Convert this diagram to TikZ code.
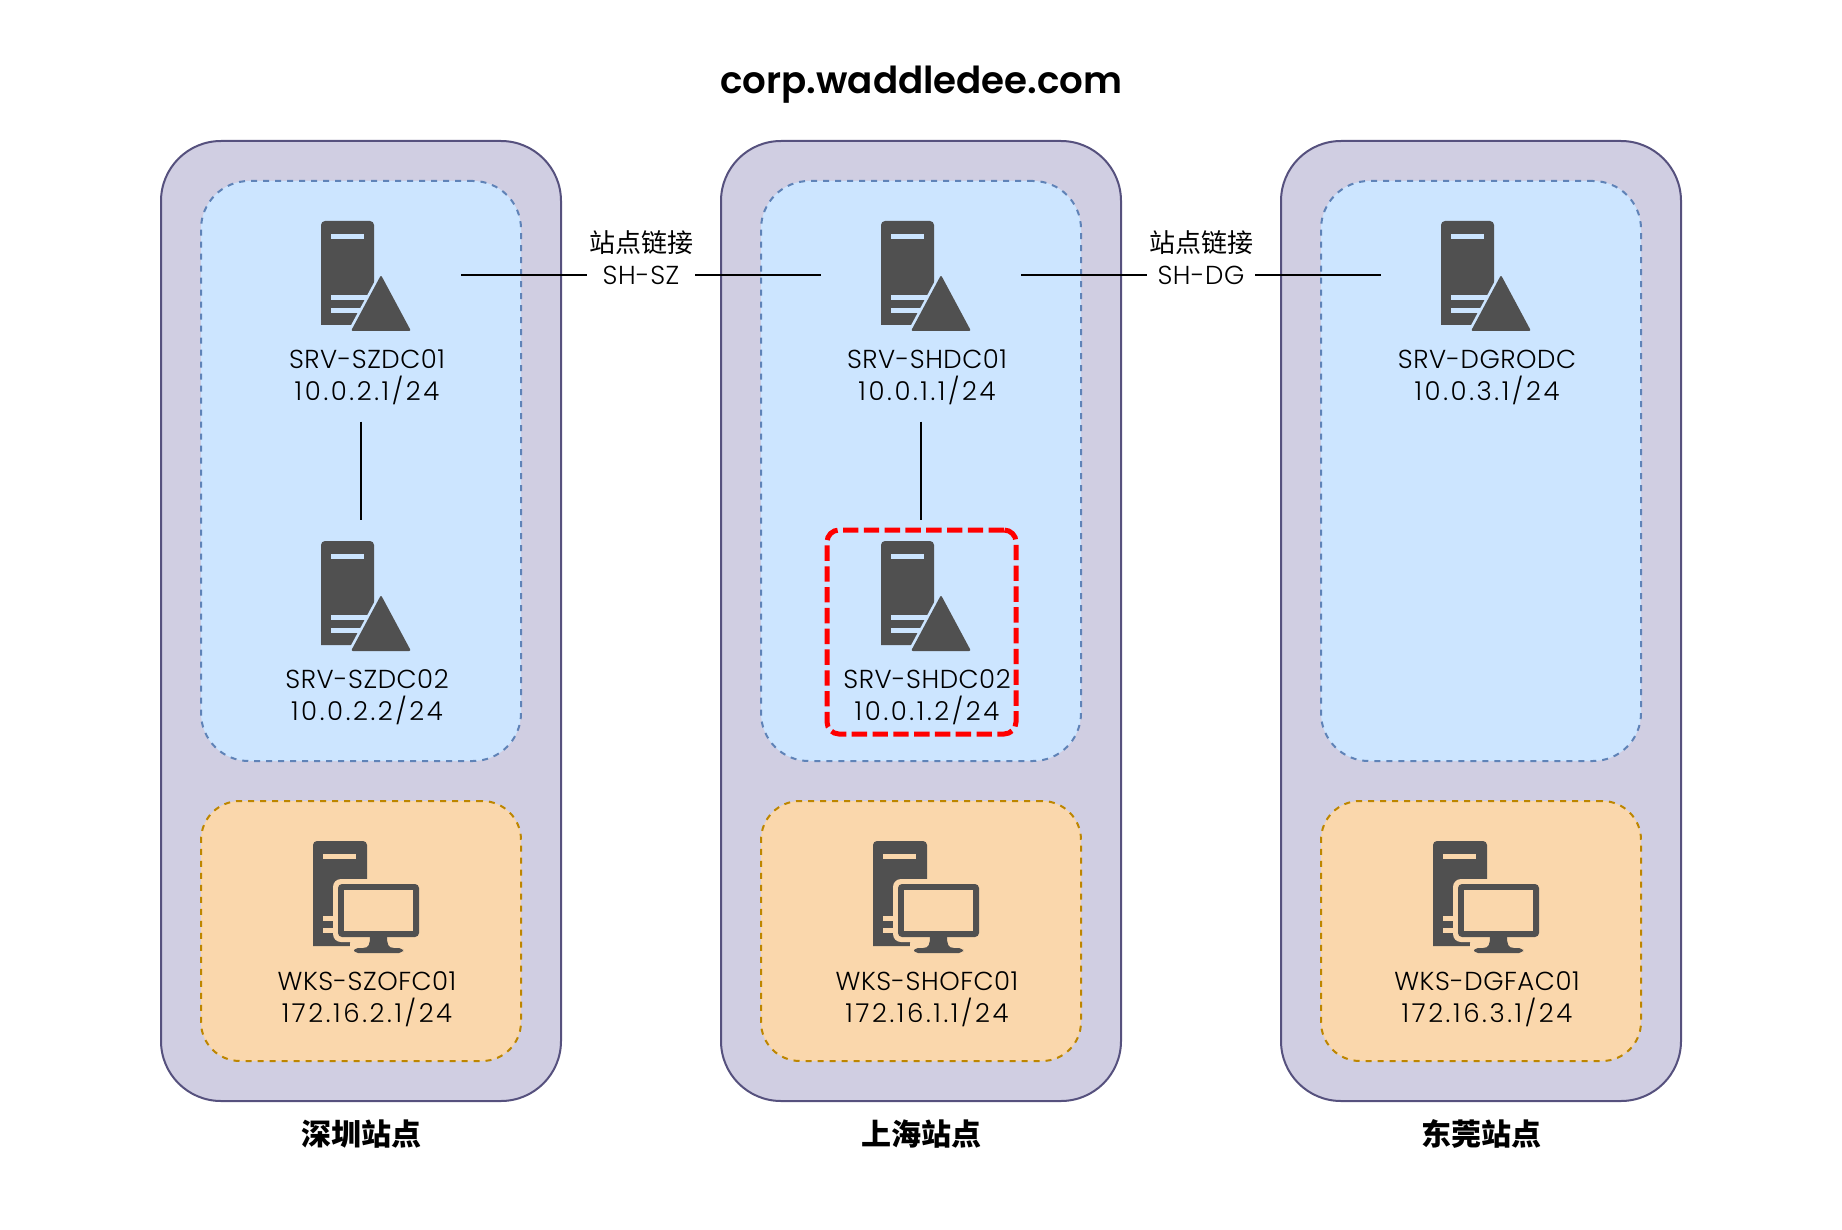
\documentclass[tikz,border=0pt]{standalone}
\usepackage{fontspec}
\setmainfont{Poppins}[UprightFont=* Light,BoldFont=* SemiBold]
\newfontfamily\hostfont{Poppins}[UprightFont=* Light,LetterSpace=2]
\newfontfamily\ipfont{Poppins}[UprightFont=* Light,LetterSpace=10]
\newfontfamily\cjk{Noto Sans CJK SC}
\usetikzlibrary{positioning}
\definecolor{sitefill}{HTML}{D0CEE2}
\definecolor{sitedraw}{HTML}{56517E}
\definecolor{srvfill}{HTML}{CCE5FF}
\definecolor{srvdraw}{HTML}{5F83B8}
\definecolor{wksfill}{HTML}{FAD7AC}
\definecolor{wksdraw}{HTML}{BD8600}
\definecolor{iconfill}{HTML}{505050}
\tikzstyle{link} = [line width=1pt, black]

\begin{document}
\begin{tikzpicture}[x=0.5pt,y=-0.5pt]
\tikzset{
  box/.style={rectangle,outer sep=0pt,inner sep=0pt},
  sitebox/.style={box,fill=sitefill,draw=sitedraw,line width=1pt,rounded corners=30pt,minimum width=200pt,minimum height=480pt},
  srvbox/.style={box,fill=srvfill,draw=srvdraw,line width=1pt,dash pattern=on 3pt off 3pt,rounded corners=24pt,minimum width=160pt,minimum height=290pt},
  wksbox/.style={box,fill=wksfill,draw=wksdraw,line width=1pt,dash pattern=on 3pt off 3pt,rounded corners=19.5pt,minimum width=160pt,minimum height=130pt},
  hlbox/.style={box,draw=red,line width=2.5pt,dash pattern=on 7.7pt off 2.7pt,rounded corners=6pt,minimum width=94.5pt,minimum height=102pt},
  iconbox/.style={box,minimum width=100pt,minimum height=75pt},
  hosttext/.style={box,align=center,font=\fontsize{13}{16}\selectfont,minimum height=44pt},
  linktext/.style={box,align=center,font=\fontsize{13}{16}\selectfont,minimum width=54pt},
  sitetext/.style={box,font=\cjk\bfseries\fontsize{15}{18}\selectfont},
  titletext/.style={box,font=\bfseries\fontsize{18.6}{24}\selectfont},
  pics/srvicon/.style={code={
    \fill[iconfill] (-40,50) [rounded corners=2pt] -- (-40,-54) -- (13,-54) [sharp corners] -- (13,50) -- cycle;
    \fill[srvfill] (-30,-41) rectangle (3,-36);
    \fill[srvfill] (-30,20) rectangle (8,25);
    \fill[srvfill] (-30,33) rectangle (8,38);
    \draw[srvfill,fill=srvfill,line width=4pt,line join=round] (20,3) -- (-8,55) -- (48,55) -- cycle;
    \fill[iconfill,rounded corners=1pt] (20,0) -- (-10,56) -- (50,56) -- cycle;
  }},
  pics/wksicon/.style={code={
    \fill[iconfill] (-48,49) [rounded corners=2pt] -- (-48,-56) -- (6,-56) [sharp corners] -- (6,49) -- cycle;
    \fill[wksfill] (-38,-43) rectangle (-5,-38);
    \fill[wksfill] (-38,19) rectangle (-20,24);
    \fill[wksfill] (-38,31) rectangle (-20,36);
    \fill[wksfill,rounded corners=4pt] (-28,-18) rectangle (63,45);
    \fill[wksfill,rounded corners=2pt] (-11,42) rectangle (46,60);
    \fill[iconfill,rounded corners=2pt] (-23,-13) rectangle (58,40);
    \fill[wksfill] (-17,-7) rectangle (52,34);
    \fill[iconfill] (9,39) .. controls (9,47) and (8,51) .. (2,51) -- (33,51) .. controls (27,51) and (26,47) .. (26,39) -- cycle;
    \fill[iconfill,rounded corners=2pt] (-7,51) rectangle (42,56);
  }}
}

% the three sites
\foreach \n/\x/\lbl in {sz/361/深圳站点,sh/921/上海站点,dg/1481/东莞站点} {
\node[sitebox] (site\n) at (\x,621){};
\node[srvbox] (srvzone\n) at (\x,471){};
\node[wksbox] (wkszone\n) at (\x,931){};
\node[sitetext] (sitelabel\n) at (\x,1134){\lbl};
}

\node[titletext] (title) at (921.5,85){corp.waddledee.com};

% domain controllers
\foreach \n/\x/\y/\host/\ip in {sz1/361/275/SRV-SZDC01/10.0.2.1,sz2/361/595/SRV-SZDC02/10.0.2.2,sh1/921/275/SRV-SHDC01/10.0.1.1,sh2/921/595/SRV-SHDC02/10.0.1.2,dg1/1481/275/SRV-DGRODC/10.0.3.1} {
\node[iconbox] (srv\n) at (\x,\y){};
\pic at (srv\n.center) {srvicon};
\node[hosttext] (srvtext\n) at (\x+6,\y+102.5){{\hostfont\host}\\{\ipfont\ip/24}};
}

% workstations
\foreach \n/\x/\host/\ip in {sz/361/WKS-SZOFC01/172.16.2.1,sh/921/WKS-SHOFC01/172.16.1.1,dg/1481/WKS-DGFAC01/172.16.3.1} {
\node[iconbox] (wks\n) at (\x,897){};
\pic at (wks\n.center) {wksicon};
\node[hosttext] (wkstext\n) at (\x+6,999.5){{\hostfont\host}\\{\ipfont\ip/24}};
}

\node[hlbox] (hilite) at (921.5,632){};

\node[linktext] (linksz) at (641,258){{\cjk 站点链接}\\{\hostfont SH-SZ}};
\node[linktext] (linkdg) at (1201,258){{\cjk 站点链接}\\{\hostfont SH-DG}};

\draw[link] (srvsz1.east) -- (srvsz1.east -| linksz.west);
\draw[link] (linksz.east |- srvsh1.west) -- (srvsh1.west);
\draw[link] (srvsh1.east) -- (srvsh1.east -| linkdg.west);
\draw[link] (linkdg.east |- srvdg1.west) -- (srvdg1.west);
\draw[link] (srvsz1.center |- srvtextsz1.south) -- (srvsz2.north);
\draw[link] (srvsh1.center |- srvtextsh1.south) -- (srvsh2.north);

\useasboundingbox (0,0) rectangle (1842,1230);
\end{tikzpicture}
\end{document}
